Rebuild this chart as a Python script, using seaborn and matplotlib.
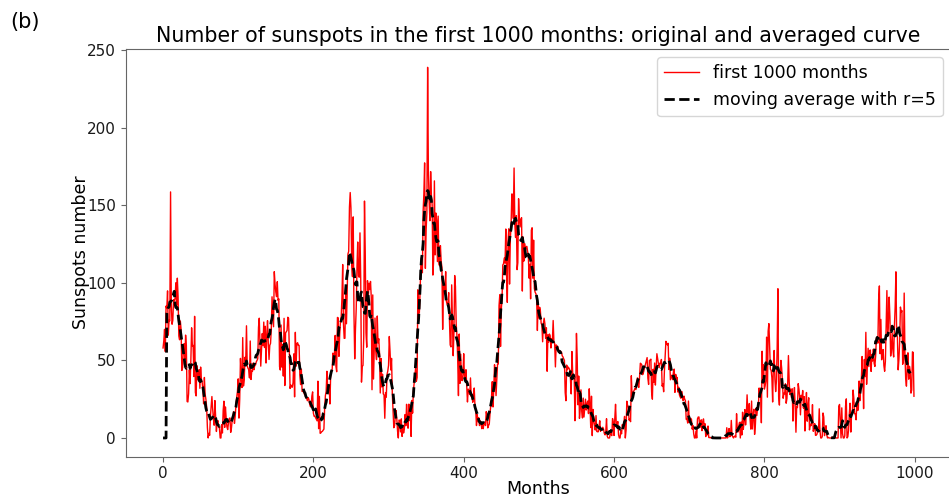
import numpy as np
import pandas as pd
import matplotlib
matplotlib.use("Agg")
import matplotlib.pyplot as plt
import seaborn as sns

# Monthly sunspot numbers, Jan 1749 onward (first 1000 months)
y1749 = [58.0, 62.6, 70.0, 55.7, 85.0, 83.5, 94.8, 66.3, 75.9, 75.5, 158.6, 85.2]
y1750 = [73.3, 75.9, 89.2, 88.3, 90.0, 100.0, 85.4, 103.0, 91.2, 65.7, 63.3, 75.4]
y1751 = [70.0, 43.5, 45.3, 56.4, 60.7, 50.7, 66.3, 59.8, 23.5, 23.2, 28.5, 44.0]
y1752 = [35.0, 50.0, 71.0, 59.3, 59.7, 39.6, 78.4, 29.3, 27.1, 46.6, 37.6, 40.0]
y1753 = [44.0, 32.0, 45.7, 38.0, 36.0, 31.7, 22.0, 39.0, 28.0, 25.0, 20.0, 6.7]
y1754 = [0.0, 3.0, 1.7, 13.7, 20.7, 26.7, 18.8, 12.3, 8.2, 24.1, 13.2, 4.2]
y1755 = [10.2, 11.2, 6.8, 6.5, 0.0, 0.0, 8.6, 3.2, 17.8, 23.7, 6.8, 20.0]
y1756 = [12.5, 7.1, 5.4, 9.4, 12.5, 12.9, 3.6, 6.4, 11.8, 14.3, 17.0, 9.4]
y1757 = [14.1, 21.2, 26.2, 30.0, 38.1, 12.8, 25.0, 51.3, 39.7, 32.5, 64.7, 33.5]
y1758 = [37.6, 52.0, 49.0, 72.3, 46.4, 45.0, 44.0, 38.7, 62.5, 37.7, 43.0, 43.0]
y1759 = [48.3, 44.0, 46.8, 47.0, 49.0, 50.0, 51.0, 71.3, 77.2, 59.7, 46.3, 57.0]
y1760 = [67.3, 59.5, 74.7, 58.3, 72.0, 48.3, 66.0, 75.6, 61.3, 50.6, 59.7, 61.0]
y1761 = [70.0, 91.0, 80.7, 71.7, 107.2, 99.3, 94.1, 91.1, 100.7, 88.7, 89.7, 46.0]
y1762 = [43.8, 72.8, 45.7, 60.2, 39.9, 77.1, 33.8, 67.7, 68.5, 69.3, 77.8, 77.2]
y1763 = [56.5, 31.9, 34.2, 32.9, 32.7, 35.8, 54.2, 26.5, 68.1, 46.3, 60.9, 61.4]
y1764 = [59.7, 59.7, 40.2, 34.4, 44.3, 30.0, 30.0, 30.0, 28.2, 28.0, 26.0, 25.7]
y1765 = [24.0, 26.0, 25.0, 22.0, 20.2, 20.0, 27.0, 29.7, 16.0, 14.0, 14.0, 13.0]
y1766 = [12.0, 11.0, 36.6, 6.0, 26.8, 3.0, 3.3, 4.0, 4.3, 5.0, 5.7, 19.2]
y1767 = [27.4, 30.0, 43.0, 32.9, 29.8, 33.3, 21.9, 40.8, 42.7, 44.1, 54.7, 53.3]
y1768 = [53.5, 66.1, 46.3, 42.7, 77.7, 77.4, 52.6, 66.8, 74.8, 77.8, 90.6, 111.8]
y1769 = [73.9, 64.2, 64.3, 96.7, 73.6, 94.4, 118.6, 120.3, 148.8, 158.2, 148.1, 112.0]
y1770 = [104.0, 142.5, 80.1, 51.0, 70.1, 83.3, 109.8, 126.3, 104.4, 103.6, 132.2, 102.3]
y1771 = [36.0, 46.2, 46.7, 64.9, 152.7, 119.5, 67.7, 58.5, 101.4, 90.0, 99.7, 95.7]
y1772 = [100.9, 90.8, 31.1, 92.2, 38.0, 57.0, 77.3, 56.2, 50.5, 78.6, 61.3, 64.0]
y1773 = [54.6, 29.0, 51.2, 32.9, 41.1, 28.4, 27.7, 12.7, 29.3, 26.3, 40.9, 43.2]
y1774 = [46.8, 65.4, 55.7, 43.8, 51.3, 28.5, 17.5, 6.6, 7.9, 14.0, 17.7, 12.2]
y1775 = [4.4, 0.0, 11.6, 11.2, 3.9, 12.3, 1.0, 7.9, 3.2, 5.6, 15.1, 7.9]
y1776 = [21.7, 11.6, 6.3, 21.8, 11.2, 19.0, 1.0, 24.2, 16.0, 30.0, 35.0, 40.0]
y1777 = [45.0, 36.5, 39.0, 95.5, 80.3, 80.7, 95.0, 112.0, 116.2, 106.5, 146.0, 157.3]
y1778 = [177.3, 109.3, 134.0, 145.0, 238.9, 171.6, 153.0, 140.0, 171.7, 156.3, 150.3, 105.0]
y1779 = [114.7, 165.7, 118.0, 145.0, 140.0, 113.7, 143.0, 112.0, 111.0, 124.0, 114.0, 110.0]
y1780 = [70.0, 98.0, 98.0, 95.0, 107.2, 88.0, 86.0, 86.0, 93.7, 77.0, 60.0, 58.7]
y1781 = [98.7, 74.7, 53.0, 68.3, 104.7, 97.7, 73.5, 66.0, 51.0, 27.3, 67.0, 35.2]
y1782 = [54.0, 37.5, 37.0, 41.0, 54.3, 38.0, 37.0, 44.0, 34.0, 23.2, 31.5, 30.0]
y1783 = [28.0, 38.7, 26.7, 28.3, 23.0, 25.2, 32.2, 20.0, 18.0, 8.0, 15.0, 10.5]
y1784 = [13.0, 8.0, 11.0, 10.0, 6.0, 9.0, 6.0, 10.0, 10.0, 8.0, 17.0, 14.0]
y1785 = [6.5, 8.0, 9.0, 15.7, 20.7, 26.3, 36.3, 20.0, 32.0, 47.2, 40.2, 27.3]
y1786 = [37.2, 47.6, 47.7, 85.4, 92.3, 59.0, 83.0, 89.7, 111.5, 112.3, 116.0, 112.7]
y1787 = [134.7, 106.0, 87.4, 127.2, 134.8, 99.2, 128.0, 137.2, 157.3, 157.0, 141.5, 174.0]
y1788 = [138.0, 129.2, 143.3, 108.5, 113.0, 154.2, 141.5, 136.0, 141.0, 142.0, 94.7, 129.5]
y1789 = [114.0, 125.3, 120.0, 123.3, 123.5, 120.0, 117.0, 103.0, 112.0, 89.7, 134.0, 135.5]
y1790 = [103.0, 127.5, 96.3, 94.0, 93.0, 91.0, 69.3, 87.0, 77.3, 84.3, 82.0, 74.0]
y1791 = [72.7, 62.0, 74.0, 77.2, 73.7, 64.2, 71.0, 43.0, 66.5, 61.7, 67.0, 66.0]
y1792 = [58.0, 64.0, 63.0, 75.7, 62.0, 61.0, 45.8, 60.0, 59.0, 59.0, 57.0, 56.0]
y1793 = [56.0, 55.0, 55.5, 53.0, 52.3, 51.0, 50.0, 29.3, 24.0, 47.0, 44.0, 45.7]
y1794 = [45.0, 44.0, 38.0, 28.4, 55.7, 41.5, 41.0, 40.0, 11.1, 28.5, 67.4, 51.4]
y1795 = [21.4, 39.9, 12.6, 18.6, 31.0, 17.1, 12.9, 25.7, 13.5, 19.5, 25.0, 18.0]
y1796 = [22.0, 23.8, 15.7, 31.7, 21.0, 6.7, 26.9, 1.5, 18.4, 11.0, 8.4, 5.1]
y1797 = [14.4, 4.2, 4.0, 4.0, 7.3, 11.1, 4.3, 6.0, 5.7, 6.9, 5.8, 3.0]
y1798 = [2.0, 4.0, 12.4, 1.1, 0.0, 0.0, 0.0, 3.0, 2.4, 1.5, 12.5, 9.9]
y1799 = [1.6, 12.6, 21.7, 8.4, 8.2, 10.6, 2.1, 0.0, 0.0, 4.6, 2.7, 8.6]
y1800 = [6.9, 9.3, 13.9, 0.0, 5.0, 23.7, 21.0, 19.5, 11.5, 12.3, 10.5, 40.1]
y1801 = [27.0, 29.0, 30.0, 31.0, 32.0, 31.2, 35.0, 38.7, 33.5, 32.6, 39.8, 48.2]
y1802 = [47.8, 47.0, 40.8, 42.0, 44.0, 46.0, 48.0, 50.0, 51.8, 38.5, 34.5, 50.0]
y1803 = [50.0, 50.8, 29.5, 25.0, 44.3, 36.0, 48.3, 34.1, 45.3, 54.3, 51.0, 48.0]
y1804 = [45.3, 48.3, 48.0, 50.6, 33.4, 34.8, 29.8, 43.1, 53.0, 62.3, 61.0, 60.0]
y1805 = [61.0, 44.1, 51.4, 37.5, 39.0, 40.5, 37.6, 42.7, 44.4, 29.4, 41.0, 38.3]
y1806 = [39.0, 29.6, 32.7, 27.7, 26.4, 25.6, 30.0, 26.3, 24.0, 27.0, 25.0, 24.0]
y1807 = [12.0, 12.2, 9.6, 23.8, 10.0, 12.0, 12.7, 12.0, 5.7, 8.0, 2.6, 0.0]
y1808 = [0.0, 4.5, 0.0, 12.3, 13.5, 13.5, 6.7, 8.0, 11.7, 4.7, 10.5, 12.3]
y1809 = [7.2, 9.2, 0.9, 2.5, 2.0, 7.7, 0.3, 0.2, 0.4, 0.0, 0.0, 0.0]
y1810 = [0.0, 0.0, 0.0, 0.0, 0.0, 0.0, 0.0, 0.0, 0.0, 0.0, 0.0, 0.0]
y1811 = [0.0, 0.0, 0.0, 0.0, 0.0, 0.0, 6.6, 0.0, 2.4, 6.1, 0.8, 1.1]
y1812 = [11.3, 1.9, 0.7, 0.0, 1.0, 1.3, 0.5, 15.6, 5.2, 3.9, 7.9, 10.1]
y1813 = [0.0, 10.3, 1.9, 16.6, 5.5, 11.2, 18.3, 8.4, 15.3, 27.8, 16.7, 14.3]
y1814 = [22.2, 12.0, 5.7, 23.8, 5.8, 14.9, 18.5, 2.3, 8.1, 19.3, 14.5, 20.1]
y1815 = [19.2, 32.2, 26.2, 31.6, 9.8, 55.9, 35.5, 47.2, 31.5, 33.5, 37.2, 65.0]
y1816 = [26.3, 68.8, 73.7, 58.8, 44.3, 43.6, 38.8, 23.2, 47.8, 56.4, 38.1, 29.9]
y1817 = [36.4, 57.9, 96.2, 26.4, 21.2, 40.0, 50.0, 45.0, 36.7, 25.6, 28.9, 28.4]
y1818 = [34.9, 22.4, 25.4, 34.5, 53.1, 36.4, 28.0, 31.5, 26.1, 31.7, 10.9, 25.8]
y1819 = [32.5, 20.7, 3.7, 20.2, 19.6, 35.0, 31.4, 26.1, 14.9, 27.5, 25.1, 30.6]
y1820 = [19.2, 26.6, 4.5, 19.4, 29.3, 10.8, 20.6, 25.9, 5.2, 9.0, 7.9, 9.7]
y1821 = [21.5, 4.3, 5.7, 9.2, 1.7, 1.8, 2.5, 4.8, 4.4, 18.8, 4.4, 0.0]
y1822 = [0.0, 0.9, 16.1, 13.5, 1.5, 5.6, 7.9, 2.1, 0.0, 0.4, 0.0, 0.0]
y1823 = [0.0, 0.0, 0.6, 0.0, 0.0, 0.0, 0.5, 0.0, 0.0, 0.0, 0.0, 20.4]
y1824 = [21.6, 10.8, 0.0, 19.4, 2.8, 0.0, 0.0, 1.4, 20.5, 25.2, 0.0, 0.8]
y1825 = [5.0, 15.5, 22.4, 3.8, 15.4, 15.4, 30.9, 25.4, 15.7, 15.6, 11.7, 22.0]
y1826 = [17.7, 18.2, 36.7, 24.0, 32.4, 37.1, 52.5, 39.6, 18.9, 50.6, 39.5, 68.1]
y1827 = [34.6, 47.4, 57.8, 46.0, 56.3, 56.7, 42.9, 53.7, 49.6, 57.2, 48.2, 46.1]
y1828 = [52.8, 64.4, 65.0, 61.1, 89.1, 98.0, 54.3, 76.4, 50.4, 54.7, 57.0, 46.6]
y1829 = [43.0, 49.4, 72.3, 95.0, 67.5, 73.9, 90.8, 78.3, 52.8, 57.2, 67.6, 56.5]
y1830 = [52.2, 72.1, 84.6, 107.1, 66.3, 65.1, 43.9, 50.7, 62.1, 84.4, 81.2, 82.1]
y1831 = [47.5, 50.1, 93.4, 54.6, 38.1, 33.4, 45.2, 54.9, 37.9, 46.2, 43.5, 28.9]
y1832 = [30.9, 55.5, 55.1, 26.9]

years = [y1749, y1750, y1751, y1752, y1753, y1754, y1755, y1756, y1757, y1758,
         y1759, y1760, y1761, y1762, y1763, y1764, y1765, y1766, y1767, y1768,
         y1769, y1770, y1771, y1772, y1773, y1774, y1775, y1776, y1777, y1778,
         y1779, y1780, y1781, y1782, y1783, y1784, y1785, y1786, y1787, y1788,
         y1789, y1790, y1791, y1792, y1793, y1794, y1795, y1796, y1797, y1798,
         y1799, y1800, y1801, y1802, y1803, y1804, y1805, y1806, y1807, y1808,
         y1809, y1810, y1811, y1812, y1813, y1814, y1815, y1816, y1817, y1818,
         y1819, y1820, y1821, y1822, y1823, y1824, y1825, y1826, y1827, y1828,
         y1829, y1830, y1831, y1832]

spots = np.array([v for yr in years for v in yr])
N = len(spots)
r = 5

# centered moving average (2r+1 window); first r values left at zero
avg = np.zeros(N - r)
for k in range(r, N - r):
    avg[k] = spots[k - r:k + r + 1].mean()

df_raw = pd.DataFrame({"month": np.arange(N), "value": spots})
df_avg = pd.DataFrame({"month": np.arange(N - r), "value": avg})

fig = plt.figure(figsize=(9.49, 4.97), dpi=100)
ax = fig.add_axes([125.5 / 949, 40.5 / 497, 826 / 949, 407.7 / 497])

sns.lineplot(data=df_raw, x="month", y="value", ax=ax, color="red",
             linewidth=1.0, label="first 1000 months")
sns.lineplot(data=df_avg, x="month", y="value", ax=ax, color="black",
             linewidth=2.0, linestyle="--", label="moving average with r=5")

for sp in ax.spines.values():
    sp.set_color("0.4")
ax.tick_params(colors="0.4", labelcolor="0.1")
ax.set_xticks([0, 200, 400, 600, 800, 1000])
ax.set_yticks([0, 50, 100, 150, 200, 250])
ax.tick_params(labelsize=11)
ax.set_xlabel("Months", fontsize=12.5, labelpad=-1)
ax.set_ylabel("Sunspots number", fontsize=12.5, labelpad=-2)
ax.set_title("Number of sunspots in the first 1000 months: original and averaged curve",
             fontsize=14.8, pad=5)
ax.legend(loc="upper right", fontsize=12.5)
fig.text(10 / 949, 1 - 22 / 497, "(b)", fontsize=15, va="center", ha="left")

fig.savefig("out.png", dpi=100)
